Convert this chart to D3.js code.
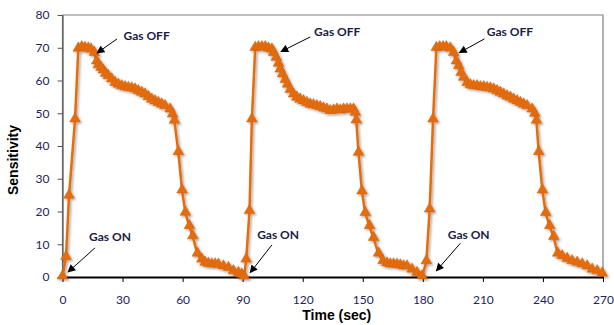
<!DOCTYPE html>
<html>
<head>
<meta charset="utf-8">
<script src="https://cdn.jsdelivr.net/npm/d3@7"></script>
<style>
  body { margin: 0; background: #fff; }
  .tick text { font-family: Lato, "Open Sans", sans-serif; font-size: 12px; fill: #23235a; }
  .axisText { font-family: "Liberation Sans", Arial, sans-serif; font-size: 14px; font-weight: bold; fill: #000; }
  .note { font-family: Lato, "Open Sans", sans-serif; font-size: 12px; font-weight: bold; fill: #1b1b44; }
</style>
</head>
<body>
<div id="chart"></div>
<script>
var svgWidth = 614;
var svgHeight = 325;

var margin = { top: 15, right: 11, bottom: 48, left: 62.5 };
var width = svgWidth - margin.left - margin.right;
var height = svgHeight - margin.top - margin.bottom;

// sensor response, three gas on/off cycles
var timeSec = [
  0, 1.75, 3.25, 6.25, 7.9, 9.6, 11.25, 12.9, 14.25, 15.9, 17.1, 17.9, 19.25, 20.4, 21.6, 22.9,
  24.6, 26.25, 27.9, 29.6, 31.25, 32.9, 34.6, 36.25, 37.9, 39.6, 41.25, 42.9, 44.6, 46.25, 47.9,
  49.6, 51.25, 53.75, 55, 55.9, 57.9, 59.75, 61.4, 63.4, 65.1, 67.4, 69.6, 71.25, 72.9, 74.6,
  76.25, 77.9, 80.4, 82.9, 85.4, 87.9, 89.6, 90.75,
  91.75, 93.4, 94.6, 96.25, 97.9, 99.6, 101.25, 102.9, 104.6, 105.4, 106.75, 107.9, 108.75, 109.9,
  111.25, 112.4, 113.75, 115.4, 117.1, 118.75, 120.4, 122.1, 123.75, 125.4, 127.1, 128.75, 130.4,
  132.1, 133.75, 135.4, 137.1, 138.75, 140.4, 142.1, 143.75, 145.4, 146.25, 146.75, 147.9, 149.6,
  151.25, 153.4, 155.4, 157.9, 160.1, 162.1, 163.75, 165.4, 167.1, 168.75, 170.4, 172.1, 174.6,
  177.1, 179.6,
  181.75, 183.4, 185.1, 186.75, 188.4, 190.1, 191.75, 193.75, 195.4, 196.75, 197.9, 199.1, 200.4,
  202.1, 203.75, 205.4, 207.1, 208.75, 210.4, 212.1, 213.75, 215.4, 217.1, 218.75, 220.4, 222.1,
  223.75, 225.4, 227.1, 228.75, 230.4, 232.1, 234.6, 235.9, 236.75, 237.9, 239.75, 241.4, 243.4,
  245.4, 247.4, 249.6, 252.1, 254.6, 257.1, 259.6, 262.1, 264.6, 267.1, 269.6
];
var sensitivity = [
  0, 6, 24.7, 48, 69.6, 70, 69.8, 69.6, 69.3, 68.3, 65.7, 64.5, 63.7, 62.9, 61.9, 61.2,
  60.2, 59.1, 58.6, 58.1, 57.8, 57.6, 57.4, 57.1, 56.6, 56.1, 55.6, 54.8, 54, 53.5, 53,
  52.5, 52, 51, 49.5, 47.6, 38, 26.3, 19.5, 15.4, 12.3, 7, 5.2, 4.2, 3.9, 3.7,
  3.7, 3.6, 3.1, 2.6, 1.6, 1.1, 0.6, 0,
  5.2, 20, 48, 69.8, 70, 70, 70, 69.6, 69.3, 68.3, 66.8, 65, 63.2, 61.7,
  60, 58.6, 57, 55.6, 54.6, 54, 53.5, 53, 52.5, 52.3, 52, 51.7, 51.3,
  51, 50.5, 50.7, 51, 50.7, 51, 51, 51, 51, 50, 47.7, 37.8, 26,
  19.4, 15.4, 11.8, 7, 4.7, 4, 3.7, 3.7, 3.6, 3.4, 3.1, 3.1, 2.1,
  1.1, 0.1,
  4.7, 20.5, 48, 69.8, 70, 70, 70, 69.6, 68.3, 65.7, 64.2, 62.2, 60.7,
  59.1, 58.4, 58.1, 58.1, 57.8, 57.8, 57.6, 57.4, 57.1, 56.6, 56.1, 55.6, 55,
  54.6, 54, 53.5, 53, 52.5, 52, 51, 49.7, 47.6, 38, 26.3, 19.4, 15.4,
  12.1, 7, 6.2, 5.4, 4.7, 4.2, 3.7, 3.1, 2.1, 1.6, 0.9
];

var xTicks = [0, 30, 60, 90, 120, 150, 180, 210, 240, 270];
var yTicks = [0, 10, 20, 30, 40, 50, 60, 70, 80];

// annotations: label position, arrow start, arrow tip (data units)
var noteText   = ["Gas OFF", "Gas OFF", "Gas OFF", "Gas ON", "Gas ON", "Gas ON"];
var noteAt     = [[42, 73.7], [137.25, 74.9], [223.5, 74.8], [23.75, 12.2], [107.7, 12.8], [202.9, 12.8]];
var arrowFrom  = [[27.25, 72.7], [123.75, 73.3], [210.75, 72.7], [16.25, 8.9], [104.6, 9.8], [198.75, 10.3]];
var arrowTo    = [[17.25, 68.4], [109.1, 68.8], [198.25, 68.5], [2.75, 1.5], [93.75, 1.3], [186.75, 1.9]];

var svg = d3.select("#chart")
  .append("svg")
  .attr("width", svgWidth)
  .attr("height", svgHeight);

var defs = svg.append("defs");
defs.append("filter")
  .attr("id", "shadow")
  .attr("x", "-20%").attr("y", "-20%").attr("width", "140%").attr("height", "140%")
  .append("feDropShadow")
  .attr("dx", 1.5).attr("dy", 1.5).attr("stdDeviation", 1)
  .attr("flood-color", "#000").attr("flood-opacity", 0.35);
defs.append("marker")
  .attr("id", "arrowhead")
  .attr("viewBox", "0 0 10 10")
  .attr("refX", 9).attr("refY", 5)
  .attr("markerWidth", 9).attr("markerHeight", 8)
  .attr("markerUnits", "userSpaceOnUse")
  .attr("orient", "auto")
  .append("path")
  .attr("d", "M0,0 L10,5 L0,10 Z")
  .attr("fill", "#000");

var chartGroup = svg.append("g")
  .attr("transform", `translate(${margin.left}, ${margin.top})`);

var xLinearScale = d3.scaleLinear().domain([0, 270]).range([0, width]);
var yLinearScale = d3.scaleLinear().domain([0, 80]).range([height, 0]);

// plot frame (grey top / right / left)
chartGroup.append("path")
  .attr("d", `M0,${height} V0 H${width} V${height}`)
  .attr("fill", "none")
  .attr("stroke", "#7f7f7f")
  .attr("stroke-width", 1.2);

var bottomAxis = d3.axisBottom(xLinearScale).tickValues(xTicks).tickSize(5).tickPadding(13).tickSizeOuter(0);
var leftAxis = d3.axisLeft(yLinearScale).tickValues(yTicks).tickSize(5).tickPadding(8).tickSizeOuter(0);

var yAxis = chartGroup.append("g").call(leftAxis);
yAxis.select(".domain").attr("stroke", "#555").attr("stroke-width", 1.2);
yAxis.selectAll(".tick line").attr("stroke", "#555");

var xAxis = chartGroup.append("g")
  .attr("transform", `translate(0, ${height})`)
  .call(bottomAxis);
xAxis.select(".domain").attr("stroke", "#000").attr("stroke-width", 2);
xAxis.selectAll(".tick line").attr("stroke", "#000");

var points = timeSec.map((t, i) => [t, sensitivity[i]]);

var line = d3.line()
  .x(d => xLinearScale(d[0]))
  .y(d => yLinearScale(d[1]));

var seriesGroup = chartGroup.append("g").attr("filter", "url(#shadow)");

seriesGroup.append("path")
  .datum(points)
  .attr("d", line)
  .attr("fill", "none")
  .attr("stroke", "#e46c0a")
  .attr("stroke-width", 2.5)
  .attr("stroke-linejoin", "round");

var tri = d3.symbol().type(d3.symbolTriangle).size(50);
seriesGroup.selectAll(".pt")
  .data(points)
  .enter()
  .append("path")
  .attr("class", "pt")
  .attr("d", tri)
  .attr("transform", d => `translate(${xLinearScale(d[0])}, ${yLinearScale(d[1]) - 1})`)
  .attr("fill", "#e46c0a")
  .attr("stroke", "#d0600a")
  .attr("stroke-width", 0.5);

// annotations
noteText.forEach(function(txt, i) {
  chartGroup.append("line")
    .attr("x1", xLinearScale(arrowFrom[i][0]))
    .attr("y1", yLinearScale(arrowFrom[i][1]))
    .attr("x2", xLinearScale(arrowTo[i][0]))
    .attr("y2", yLinearScale(arrowTo[i][1]))
    .attr("stroke", "#000")
    .attr("stroke-width", 1)
    .attr("marker-end", "url(#arrowhead)");
  chartGroup.append("text")
    .attr("class", "note")
    .attr("x", xLinearScale(noteAt[i][0]))
    .attr("y", yLinearScale(noteAt[i][1]))
    .attr("dy", "0.35em")
    .attr("text-anchor", "middle")
    .text(txt);
});

// axis labels
chartGroup.append("text")
  .attr("class", "axisText")
  .attr("x", width / 2 + 4)
  .attr("y", height + 43)
  .attr("text-anchor", "middle")
  .text("Time (sec)");

chartGroup.append("text")
  .attr("class", "axisText")
  .attr("transform", "rotate(-90)")
  .attr("x", 0 - 145)
  .attr("y", 0 - margin.left + 18)
  .attr("text-anchor", "middle")
  .text("Sensitivity");
</script>
</body>
</html>
